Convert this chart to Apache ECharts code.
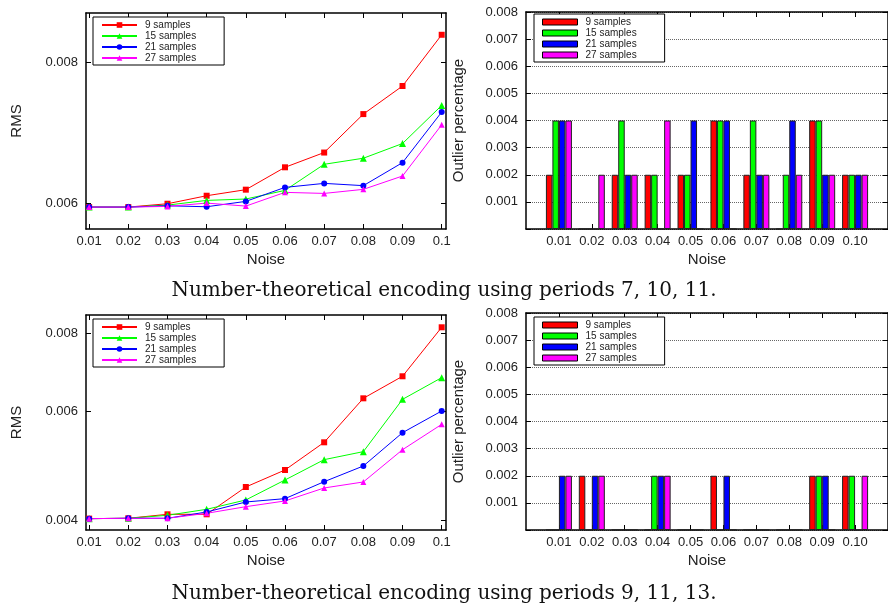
<!DOCTYPE html>
<html>
  <head>
    <meta charset="utf-8" />
    <title>Number-theoretical encoding</title>
    <script src="https://cdn.jsdelivr.net/npm/echarts@6/dist/echarts.min.js"></script>
  </head>
  <body style="margin:0;background:#fff">
    <div id="main" style="width: 888px;height:607px;"></div>
    <script type="text/javascript">
      // noise levels (x axis of every panel)
      var noise = [0.01, 0.02, 0.03, 0.04, 0.05, 0.06, 0.07, 0.08, 0.09, 0.1];
      var names = ['9 samples', '15 samples', '21 samples', '27 samples'];

      // RMS, periods 7, 10, 11
      var rmsA9  = [0.005951, 0.005951, 0.005992, 0.006091, 0.006167, 0.006456, 0.006654, 0.007199, 0.007625, 0.008468];
      var rmsA15 = [0.005951, 0.005951, 0.005975, 0.006033, 0.006050, 0.006158, 0.006496, 0.006577, 0.006778, 0.007328];
      var rmsA21 = [0.005951, 0.005951, 0.005967, 0.005955, 0.006021, 0.006196, 0.006247, 0.006218, 0.006518, 0.007229];
      var rmsA27 = [0.005951, 0.005951, 0.005959, 0.006000, 0.005963, 0.006133, 0.006120, 0.006171, 0.006342, 0.007043];

      // outlier percentage, periods 7, 10, 11
      var outA9  = [0.002, 0, 0.002, 0.002, 0.002, 0.004, 0.002, 0, 0.004, 0.002];
      var outA15 = [0.004, 0, 0.004, 0.002, 0.002, 0.004, 0.004, 0.002, 0.004, 0.002];
      var outA21 = [0.004, 0, 0.002, 0, 0.004, 0.004, 0.002, 0.004, 0.002, 0.002];
      var outA27 = [0.004, 0.002, 0.002, 0.004, 0, 0, 0.002, 0.002, 0.002, 0.002];

      // RMS, periods 9, 11, 13
      var rmsB9  = [0.004030, 0.004035, 0.004095, 0.004095, 0.004530, 0.004824, 0.005344, 0.006288, 0.006822, 0.008177];
      var rmsB15 = [0.004030, 0.004035, 0.004080, 0.004171, 0.004318, 0.004649, 0.005012, 0.005163, 0.006264, 0.006788];
      var rmsB21 = [0.004030, 0.004035, 0.004035, 0.004130, 0.004286, 0.004339, 0.004620, 0.004896, 0.005538, 0.006000];
      var rmsB27 = [0.004030, 0.004035, 0.004035, 0.004110, 0.004212, 0.004302, 0.004514, 0.004615, 0.005200, 0.005711];

      // outlier percentage, periods 9, 11, 13
      var outB9  = [0, 0.002, 0, 0, 0, 0.002, 0, 0, 0.002, 0.002];
      var outB15 = [0, 0, 0, 0.002, 0, 0, 0, 0, 0.002, 0.002];
      var outB21 = [0.002, 0.002, 0, 0.002, 0, 0.002, 0, 0, 0.002, 0];
      var outB27 = [0.002, 0.002, 0, 0.002, 0, 0, 0, 0, 0, 0.002];

      // tick labels
      var rmsTicksA = [0.006, 0.008];
      var rmsTicksB = [0.004, 0.006, 0.008];

      var colors = ['#ff0000', '#00ff00', '#0000ff', '#ff00ff'];
      var symbols = ['rect', 'triangle', 'circle', 'triangle'];
      var symbolSizes = [6, 7, 6, 6];
      var sans = 'Liberation Sans';
      var ink = '#222';

      var myChart = echarts.init(document.getElementById('main'));

      var frameLine = { show: true, onZero: false, lineStyle: { color: '#000', width: 1.5 } };
      var tickStyle = { color: '#000', width: 1 };
      var labelStyle = { fontSize: 13, fontFamily: sans, color: ink };
      var nameStyle = { fontSize: 15, fontFamily: sans, color: ink };

      var grids = [
        { left: 86, top: 13, width: 360, height: 216 },
        { left: 526, top: 12, width: 363, height: 217 },
        { left: 86, top: 315, width: 360, height: 215 },
        { left: 526, top: 313, width: 363, height: 217 }
      ];

      var xAxes = [];
      var yAxes = [];
      var series = [];

      function pairs(arr) {
        return noise.map(function (x, i) { return [x, arr[i]]; });
      }

      function lineAxes(g, ymin, ymax, yticks) {
        xAxes.push({
          type: 'value', gridIndex: g, position: 'bottom', min: 0.0092, max: 0.1011,
          axisLine: frameLine,
          axisTick: { inside: true, length: 5, customValues: noise, lineStyle: tickStyle },
          axisLabel: Object.assign({ customValues: noise, margin: 6 }, labelStyle),
          splitLine: { show: false },
          name: 'Noise', nameLocation: 'middle', nameGap: 23, nameTextStyle: nameStyle
        });
        xAxes.push({
          type: 'value', gridIndex: g, position: 'top', min: 0.0092, max: 0.1011,
          axisLine: frameLine,
          axisTick: { inside: true, length: 5, customValues: noise, lineStyle: tickStyle },
          axisLabel: { show: false }, splitLine: { show: false }
        });
        yAxes.push({
          type: 'log', gridIndex: g, position: 'left', min: ymin, max: ymax,
          axisLine: frameLine,
          axisTick: { inside: true, length: 5, customValues: yticks, lineStyle: tickStyle },
          axisLabel: Object.assign({ customValues: yticks, margin: 8, formatter: function (v) { return v.toFixed(3); } }, labelStyle),
          splitLine: { show: false },
          name: 'RMS', nameLocation: 'middle', nameRotate: 90, nameGap: 62, nameTextStyle: nameStyle
        });
        yAxes.push({
          type: 'log', gridIndex: g, position: 'right', min: ymin, max: ymax,
          axisLine: frameLine,
          axisTick: { inside: true, length: 5, customValues: yticks, lineStyle: tickStyle },
          axisLabel: { show: false }, splitLine: { show: false }
        });
      }

      function barAxes(g) {
        xAxes.push({
          type: 'value', gridIndex: g, position: 'bottom', min: 0, max: 0.11,
          axisLine: frameLine,
          axisTick: { inside: true, length: 5, customValues: noise, lineStyle: tickStyle },
          axisLabel: Object.assign({ customValues: noise, margin: 6, formatter: function (v) { return v.toFixed(2); } }, labelStyle),
          splitLine: { show: false },
          name: 'Noise', nameLocation: 'middle', nameGap: 23, nameTextStyle: nameStyle
        });
        xAxes.push({
          type: 'value', gridIndex: g, position: 'top', min: 0, max: 0.11,
          axisLine: frameLine,
          axisTick: { inside: true, length: 5, customValues: noise, lineStyle: tickStyle },
          axisLabel: { show: false }, splitLine: { show: false }
        });
        yAxes.push({
          type: 'value', gridIndex: g, position: 'left', min: 0, max: 0.008, interval: 0.001,
          axisLine: frameLine,
          axisTick: { inside: true, length: 5, lineStyle: tickStyle },
          axisLabel: Object.assign({ margin: 8, formatter: function (v) { return v === 0 ? '' : v.toFixed(3); } }, labelStyle),
          splitLine: { show: true, lineStyle: { type: 'dotted', color: '#666', width: 1 } },
          name: 'Outlier percentage', nameLocation: 'middle', nameRotate: 90, nameGap: 60, nameTextStyle: nameStyle
        });
        yAxes.push({
          type: 'value', gridIndex: g, position: 'right', min: 0, max: 0.008, interval: 0.001,
          axisLine: frameLine,
          axisTick: { inside: true, length: 5, lineStyle: tickStyle },
          axisLabel: { show: false }, splitLine: { show: false }
        });
      }

      function addLines(g, sets) {
        sets.forEach(function (arr, k) {
          series.push({
            type: 'line', name: names[k], xAxisIndex: g * 2, yAxisIndex: g * 2,
            data: pairs(arr), symbol: symbols[k], symbolSize: symbolSizes[k],
            lineStyle: { color: colors[k], width: 1 }, itemStyle: { color: colors[k] }
          });
        });
      }

      function addBars(g, sets) {
        sets.forEach(function (arr, k) {
          series.push({
            type: 'bar', name: names[k], xAxisIndex: g * 2, yAxisIndex: g * 2,
            data: pairs(arr), barGap: '0%', barCategoryGap: '21%',
            itemStyle: { color: colors[k], borderColor: '#222', borderWidth: 1 }
          });
        });
      }

      lineAxes(0, 0.00569, 0.008854, rmsTicksA);
      barAxes(1);
      lineAxes(2, 0.003864, 0.008557, rmsTicksB);
      barAxes(3);

      addLines(0, [rmsA9, rmsA15, rmsA21, rmsA27]);
      addBars(1, [outA9, outA15, outA21, outA27]);
      addLines(2, [rmsB9, rmsB15, rmsB21, rmsB27]);
      addBars(3, [outB9, outB15, outB21, outB27]);

      function legendBox(left, top, isBar) {
        var lg = {
          orient: 'vertical', left: left, top: top, data: names, selectedMode: false,
          itemWidth: 35, itemHeight: isBar ? 6 : 7, itemGap: 1,
          padding: [3, 28, 2, 8],
          borderColor: '#000', borderWidth: 1, backgroundColor: '#fff', borderRadius: 0,
          textStyle: { fontSize: 10, fontFamily: sans, color: ink, padding: [0, 0, 0, 3] }
        };
        if (isBar) {
          lg.icon = 'rect';
          lg.itemStyle = { borderColor: '#000', borderWidth: 1 };
        }
        return lg;
      }

      var captionStyle = { fontFamily: 'DejaVu Serif', fontSize: 20, fontWeight: 'normal', color: '#111' };

      var option = {
        animation: false,
        backgroundColor: '#fff',
        title: [
          { text: 'Number-theoretical encoding using periods 7, 10, 11.', left: 'center', top: 276, textStyle: captionStyle },
          { text: 'Number-theoretical encoding using periods 9, 11, 13.', left: 'center', top: 579, textStyle: captionStyle }
        ],
        legend: [
          legendBox(93, 17, false),
          legendBox(534, 14, true),
          legendBox(93, 319, false),
          legendBox(534, 317, true)
        ],
        grid: grids,
        xAxis: xAxes,
        yAxis: yAxes,
        series: series
      };

      myChart.setOption(option);
    </script>
  </body>
</html>
